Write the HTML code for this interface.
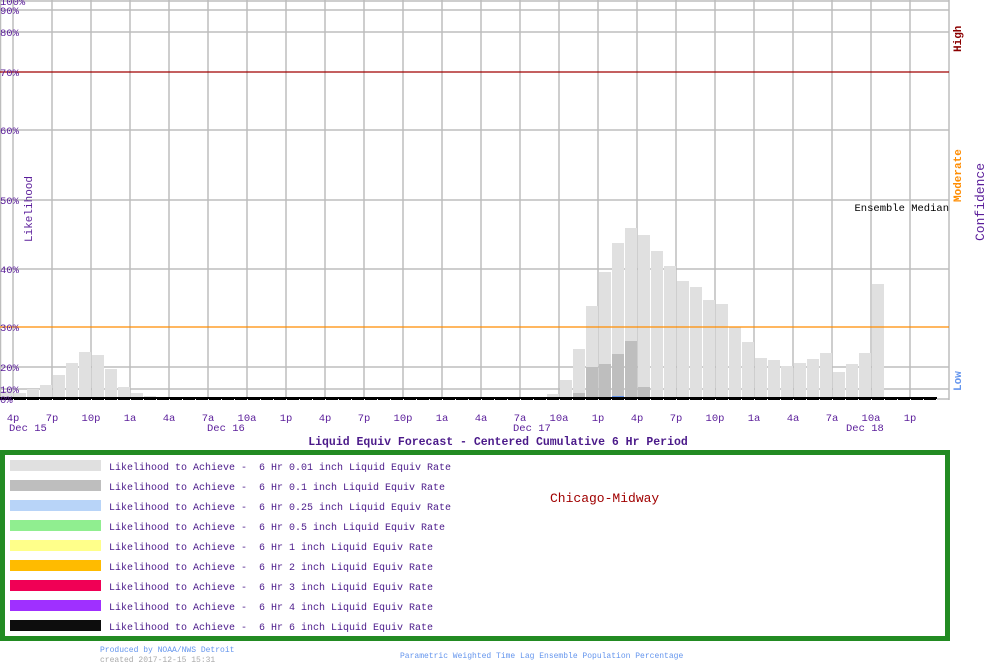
<!DOCTYPE html>
<html><head><meta charset="utf-8"><style>
body{margin:0;background:#fff;width:1000px;height:670px;overflow:hidden}
svg{display:block}
text{font-family:"Liberation Mono",monospace;white-space:pre}
</style></head><body>
<svg id="s" width="1000" height="670" xmlns="http://www.w3.org/2000/svg">
<g id="grid" stroke="#bdbdbd" stroke-width="1.5"></g>
<g id="bars"></g>
<g id="hl"></g>
<g id="lab" fill="#5a1d9a" font-size="10.5"></g>
<text x="949" y="211" font-size="10.5" fill="#000" text-anchor="end">Ensemble Median</text>
<text transform="translate(961,52) rotate(-90)" font-size="11" font-weight="bold" fill="#8b0000">High</text>
<text transform="translate(961,202) rotate(-90)" font-size="11" font-weight="bold" fill="#ff8c00">Moderate</text>
<text transform="translate(961,391) rotate(-90)" font-size="11" font-weight="bold" fill="#6495ed">Low</text>
<text transform="translate(984,241) rotate(-90)" font-size="13" fill="#5a1d9a">Confidence</text>
<text transform="translate(32,242) rotate(-90)" font-size="11" fill="#5a1d9a">Likelihood</text>
<text x="498" y="445" font-size="11.5" font-weight="bold" fill="#4b1a8a" text-anchor="middle">Liquid Equiv Forecast - Centered Cumulative 6 Hr Period</text>
<rect x="2.5" y="452.5" width="945" height="186" fill="none" stroke="#228b22" stroke-width="5"/>
<g id="leg" font-size="10" fill="#4b1a8a"></g>
<text x="550" y="502" font-size="13" fill="#a00000">Chicago-Midway</text>
<text x="100" y="652" font-size="8" fill="#6495ed">Produced by NOAA/NWS Detroit</text>
<text x="100" y="662" font-size="8" fill="#aaa">created 2017-12-15 15:31</text>
<text x="400" y="658" font-size="8" fill="#6495ed">Parametric Weighted Time Lag Ensemble Population Percentage</text>
</svg>
<script>
const NS="http://www.w3.org/2000/svg";
function el(p,t,a,txt){const e=document.createElementNS(NS,t);for(const k in a)e.setAttribute(k,a[k]);if(txt)e.textContent=txt;document.getElementById(p).appendChild(e);return e;}
for(let i=0;i<25;i++){const x=13+39*i;if(x<949)el('grid','line',{x1:x,y1:0,x2:x,y2:400});}
el('grid','line',{x1:0.5,y1:0,x2:0.5,y2:400});
el('grid','line',{x1:949,y1:0,x2:949,y2:400});
const ys=[[100,1],[90,10],[80,32],[70,72],[60,130],[50,200],[40,269],[30,327],[20,367],[10,389],[0,399]];
ys.forEach(([v,y])=>{if(v!=70&&v!=30)el('grid','line',{x1:0,y1:y,x2:949,y2:y});el('lab','text',{x:0,y:y+4},v+'%');});
el('hl','line',{x1:0,y1:72,x2:949,y2:72,stroke:'#a00000','stroke-width':1.3});
el('hl','line',{x1:0,y1:327,x2:949,y2:327,stroke:'#ff8c00','stroke-width':1.3});
const light=[[1,391],[14,393],[27,389],[40,385],[53,375],[66,363],[79,352],[92,355],[105,369],[118,387],[131,393],[144,396],[157,397],
[547,394],[560,380],[573,349],[586,306],[599,272],[612,243],[625,228],[638,235],[651,251],[664,266],[677,281],[690,287],[703,300],[716,304],[729,327],[742,342],[755,358],[768,360],[781,366],[794,363],[807,359],[820,353],[833,372],[846,364],[859,353],[872,284]];
light.forEach(([x,y])=>el('bars','rect',{x:x,y:y,width:12,height:399-y,fill:'#e0e0e0'}));
const dark=[[573,393],[586,367],[599,364],[612,354],[625,341],[638,387]];
dark.forEach(([x,y])=>el('bars','rect',{x:x,y:y,width:12,height:399-y,fill:'#bebebe'}));
el('bars','rect',{x:612,y:396,width:12,height:1.5,fill:'#6495ed'});
el('bars','rect',{x:0,y:397,width:937,height:3,fill:'#000'});
for(let x=13;x<937;x+=13)el('bars','rect',{x:x,y:399,width:1,height:1,fill:'#fff'});
const t=['4p','7p','10p','1a','4a','7a','10a','1p'];
for(let i=0;i<24;i++){const x=13+39*i;el('lab','text',{x:x,y:421,'text-anchor':'middle'},t[i%8]);}
[['Dec 15',9],['Dec 16',207],['Dec 17',513],['Dec 18',846]].forEach(([s,x])=>el('lab','text',{x:x,y:431},s));
const cols=['#e0e0e0','#bebebe','#b8d4f8','#90ee90','#ffff8a','#ffbb00','#f00055','#9f30ff','#0d0d0d'];
const am=['0.01','0.1','0.25','0.5','1','2','3','4','6'];
for(let i=0;i<9;i++){const y=460+20*i;el('leg','rect',{x:10,y:y,width:91,height:11,fill:cols[i]});
el('leg','text',{x:109,y:y+10},'Likelihood to Achieve -  6 Hr '+am[i]+' inch Liquid Equiv Rate');}
</script>
</body></html>
